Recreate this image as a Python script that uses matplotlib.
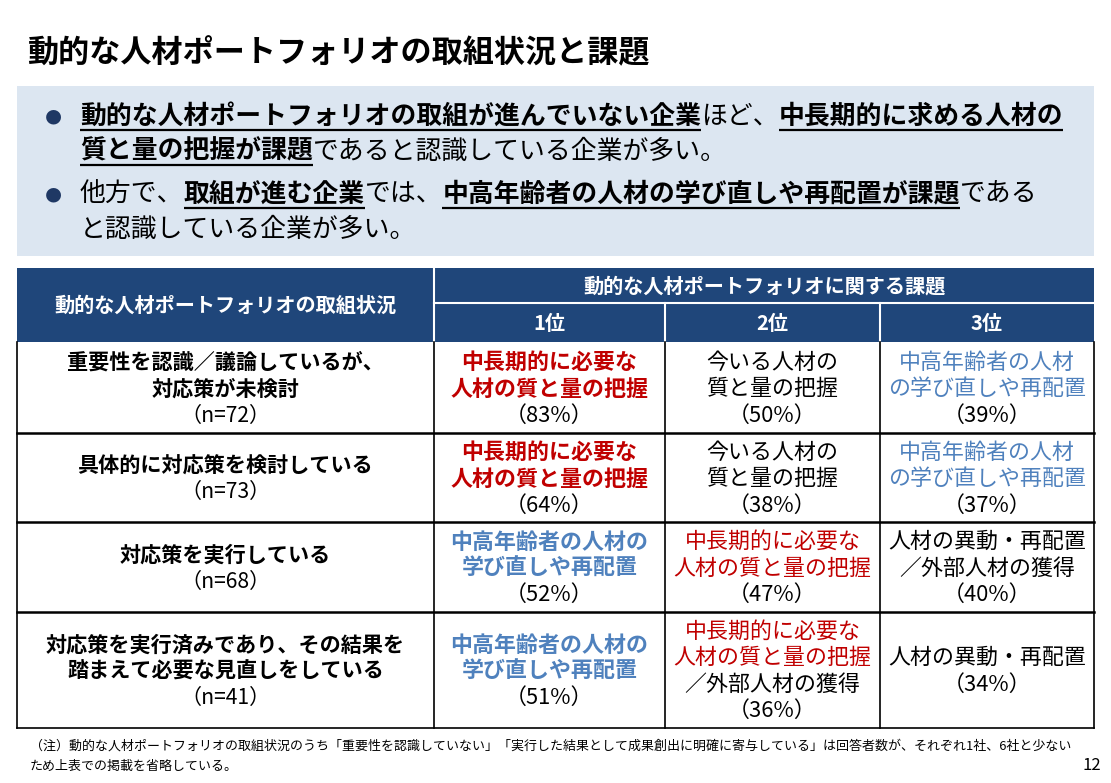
import matplotlib
matplotlib.use("Agg")
import matplotlib.pyplot as plt
from matplotlib.patches import Rectangle

plt.rcParams['font.family'] = ['Noto Sans CJK JP', 'DejaVu Sans']

W, H = 1111, 783

title = "動的な人材ポートフォリオの取組状況と課題"

# bullet lines: (text, bold/underlined)
bullet_lines = [
    [("動的な人材ポートフォリオの取組が進んでいない企業", True), ("ほど、", False), ("中長期的に求める人材の", True)],
    [("質と量の把握が課題", True), ("であると認識している企業が多い。", False)],
    [("他方で、", False), ("取組が進む企業", True), ("では、", False), ("中高年齢者の人材の学び直しや再配置が課題", True), ("である", False)],
    [("と認識している企業が多い。", False)],
]
bullet_first = [True, False, True, False]

header_status = "動的な人材ポートフォリオの取組状況"
header_issue = "動的な人材ポートフォリオに関する課題"
rank_labels = ["1位", "2位", "3位"]

statuses = [
    ["重要性を認識／議論しているが、", "対応策が未検討"],
    ["具体的に対応策を検討している"],
    ["対応策を実行している"],
    ["対応策を実行済みであり、その結果を", "踏まえて必要な見直しをしている"],
]
n_values = [72, 73, 68, 41]

# challenge cells: list of (line text, category)
rank1_cells = [
    [("中長期的に必要な", "mid"), ("人材の質と量の把握", "mid")],
    [("中長期的に必要な", "mid"), ("人材の質と量の把握", "mid")],
    [("中高年齢者の人材の", "senior"), ("学び直しや再配置", "senior")],
    [("中高年齢者の人材の", "senior"), ("学び直しや再配置", "senior")],
]
rank1_pct = [83, 64, 52, 51]
rank2_cells = [
    [("今いる人材の", "other"), ("質と量の把握", "other")],
    [("今いる人材の", "other"), ("質と量の把握", "other")],
    [("中長期的に必要な", "mid"), ("人材の質と量の把握", "mid")],
    [("中長期的に必要な", "mid"), ("人材の質と量の把握", "mid"), ("／外部人材の獲得", "other")],
]
rank2_pct = [50, 38, 47, 36]
rank3_cells = [
    [("中高年齢者の人材", "senior"), ("の学び直しや再配置", "senior")],
    [("中高年齢者の人材", "senior"), ("の学び直しや再配置", "senior")],
    [("人材の異動・再配置", "other"), ("／外部人材の獲得", "other")],
    [("人材の異動・再配置", "other")],
]
rank3_pct = [39, 37, 40, 34]

note_lines = [
    "（注）動的な人材ポートフォリオの取組状況のうち「重要性を認識していない」「実行した結果として成果創出に明確に寄与している」は回答者数が、それぞれ1社、6社と少ない",
    "ため上表での掲載を省略している。",
]
page_no = "12"

# ---- styles ----
NAVY = "#1f467a"
BOX = "#dce6f1"
RED = "#c00000"
BLUE = "#4f81bd"
cat_color = {"mid": RED, "senior": BLUE, "other": "#000000"}

fig = plt.figure(figsize=(W / 100, H / 100), dpi=100)
ax = fig.add_axes([0, 0, 1, 1])
ax.set_xlim(0, W)
ax.set_ylim(H, 0)
ax.axis("off")
renderer = fig.canvas.get_renderer()

# title
ax.text(27, 53, title, fontsize=22.4, fontweight="bold", va="center", ha="left", color="#000000")

# summary box
ax.add_patch(Rectangle((17, 86), 1094 - 17, 256 - 86, facecolor=BOX, edgecolor="none"))
bullet_y = [116, 151, 194, 229]
for line, first, y in zip(bullet_lines, bullet_first, bullet_y):
    if first:
        ax.text(53, y, "●", fontsize=14, color="#1f3864", va="center", ha="center",
                family=["DejaVu Sans"])
    x = 80
    for seg, bold in line:
        t = ax.text(x, y, seg, fontsize=18.6, fontweight="bold" if bold else "normal",
                    va="center", ha="left", color="#000000")
        bb = t.get_window_extent(renderer)
        w = bb.width
        if bold:
            ax.plot([x, x + w], [y + 14, y + 14], color="#000000", lw=1.6,
                    solid_capstyle="butt")
        x += w

# table geometry
xs = [17, 434, 665, 880, 1094]
head_top, head_mid, head_bot = 268, 303, 342
row_edges = [342, 433, 522, 612, 728]

ax.add_patch(Rectangle((xs[0], head_top), xs[-1] - xs[0], head_bot - head_top,
                       facecolor=NAVY, edgecolor="none"))
# white separators in header
ax.plot([xs[1], xs[1]], [head_top, head_bot], color="white", lw=1.5)
ax.plot([xs[1], xs[-1]], [head_mid, head_mid], color="white", lw=1.5)
for xv in xs[2:4]:
    ax.plot([xv, xv], [head_mid, head_bot], color="white", lw=1.5)

ax.text((xs[0] + xs[1]) / 2, (head_top + head_bot) / 2, header_status, color="white",
        fontsize=14.5, fontweight="bold", ha="center", va="center")
ax.text((xs[1] + xs[-1]) / 2, (head_top + head_mid) / 2, header_issue, color="white",
        fontsize=14.5, fontweight="bold", ha="center", va="center")
for i, lab in enumerate(rank_labels):
    ax.text((xs[i + 1] + xs[i + 2]) / 2, (head_mid + head_bot) / 2 + 1, lab, color="white",
            fontsize=14.5, fontweight="bold", ha="center", va="center")

# body grid
for xv in xs:
    ax.plot([xv, xv], [row_edges[0], row_edges[-1]], color="#000000", lw=1.2)
for k, yv in enumerate(row_edges[1:]):
    ax.plot([xs[0], xs[-1]], [yv, yv], color="#000000", lw=1.8 if k < 3 else 1.2)

LS = 26.5


def draw_lines(cx, cy, lines, fs):
    n = len(lines)
    y0 = cy - (n - 1) * LS / 2
    for j, (txt, color, weight) in enumerate(lines):
        ax.text(cx, y0 + j * LS, txt, color=color, fontweight=weight, fontsize=fs,
                ha="center", va="center")


for r in range(4):
    cy = (row_edges[r] + row_edges[r + 1]) / 2 + 1.5
    lines = [(s, "#000000", "bold") for s in statuses[r]]
    lines.append((f"（n={n_values[r]}）", "#000000", "normal"))
    draw_lines((xs[0] + xs[1]) / 2, cy, lines, 15.2)
    for c, (cells, pcts) in enumerate([(rank1_cells, rank1_pct), (rank2_cells, rank2_pct),
                                      (rank3_cells, rank3_pct)]):
        weight = "bold" if c == 0 else "normal"
        lines = [(t, cat_color[k], weight if k != "other" else "normal") for t, k in cells[r]]
        lines.append((f"（{pcts[r]}%）", "#000000", "normal"))
        draw_lines((xs[c + 1] + xs[c + 2]) / 2, cy, lines, 15.8)

# footnote
ax.text(30, 746, note_lines[0], fontsize=9.35, ha="left", va="center", color="#000000")
ax.text(30, 766, note_lines[1], fontsize=9.35, ha="left", va="center", color="#000000")
ax.text(1101, 766, page_no, fontsize=12, ha="right", va="center", color="#000000")

fig.savefig("out.png", dpi=100)
